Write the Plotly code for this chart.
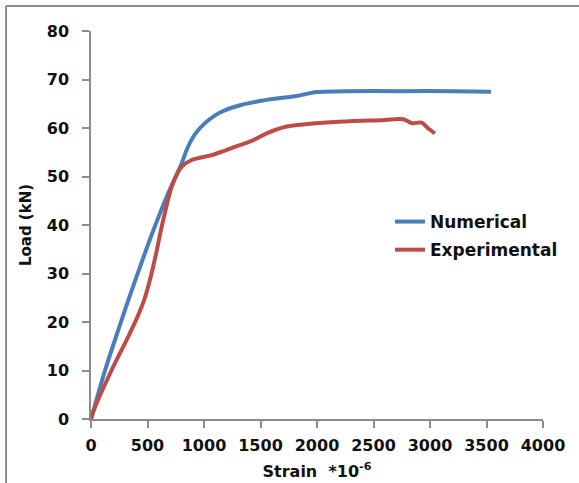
import plotly.graph_objects as go

# Data
num_strain = [0, 124, 242, 330, 404, 537, 684, 802, 847, 900, 965, 1050, 1142, 1319, 1555, 1820, 1997, 2292, 2735, 3200, 3540]
num_load = [0, 10, 18.4, 24.5, 29.4, 38.0, 46.6, 52.7, 55.5, 58.0, 60.0, 61.8, 63.2, 64.7, 65.8, 66.6, 67.4, 67.6, 67.6, 67.6, 67.5]

exp_strain = [0, 20, 183, 330, 410, 470, 522, 575, 625, 714, 802, 891, 1068, 1157, 1260, 1437, 1555, 1732, 1997, 2292, 2558, 2764, 2838, 2926, 2985, 3044]
exp_load = [0, 1.5, 10.1, 17.0, 21.0, 24.5, 28.7, 34.0, 39.6, 47.9, 52.0, 53.4, 54.4, 55.1, 56.0, 57.5, 58.9, 60.3, 61.0, 61.4, 61.6, 61.8, 61.0, 61.1, 59.9, 58.9]

x_ticks = [0, 500, 1000, 1500, 2000, 2500, 3000, 3500, 4000]
y_ticks = [0, 10, 20, 30, 40, 50, 60, 70, 80]

FONT = "DejaVu Sans"
AXIS_COLOR = "#8c8c8c"
TXT = "#111111"

fig = go.Figure()
fig.add_trace(go.Scatter(x=num_strain, y=num_load, mode="lines", name="Numerical", legendgroup="a",
                         line=dict(color="#4A7EBB", width=4, shape="spline", smoothing=0.7)))
fig.add_trace(go.Scatter(x=exp_strain, y=exp_load, mode="lines", name="Experimental", legendgroup="b",
                         line=dict(color="#BE4B48", width=4, shape="spline", smoothing=0.7)))

fig.update_layout(
    width=579, height=483,
    margin=dict(l=91, r=36, t=31, b=64, autoexpand=False),
    paper_bgcolor="white", plot_bgcolor="white",
    font=dict(family=FONT, color=TXT, size=16, weight="bold"),
    showlegend=True,
    legend=dict(x=0.6615, y=0.4716, xanchor="left", yanchor="middle",
                font=dict(family=FONT, size=17, color=TXT, weight="bold"),
                bgcolor="rgba(0,0,0,0)", borderwidth=0, tracegroupgap=3),
    xaxis=dict(range=[0, 4000], tickvals=x_ticks, ticktext=[str(v) for v in x_ticks],
               automargin=False,
               showgrid=False, zeroline=False, showline=True, linecolor=AXIS_COLOR, linewidth=1.5,
               ticks="outside", ticklen=7, tickcolor=AXIS_COLOR, tickwidth=1.5,
               ticklabelstandoff=4,
               tickfont=dict(family=FONT, size=16, color=TXT, weight="bold"),
               title=dict(text="Strain  *10<sup>-6</sup>", standoff=12,
                          font=dict(family=FONT, size=16, color=TXT, weight="bold"))),
    yaxis=dict(range=[0, 80], tickvals=y_ticks, ticktext=[str(v) for v in y_ticks],
               automargin=False,
               showgrid=False, zeroline=False, showline=True, linecolor=AXIS_COLOR, linewidth=1.5,
               ticks="outside", ticklen=7, tickcolor=AXIS_COLOR, tickwidth=1.5,
               ticklabelstandoff=10,
               tickfont=dict(family=FONT, size=16, color=TXT, weight="bold"),
               title=dict(text="Load (kN)", standoff=12,
                          font=dict(family=FONT, size=15, color=TXT, weight="bold"))),
    shapes=[
        dict(type="line", xref="paper", yref="paper", x0=-0.188, x1=1.2, y0=1.0644, y1=1.0644,
             line=dict(color="#8c8c8c", width=2)),
        dict(type="line", xref="paper", yref="paper", x0=-0.188, x1=-0.188, y0=1.0644, y1=-0.2,
             line=dict(color="#8c8c8c", width=2)),
    ],
)

fig.write_html("out.html")
